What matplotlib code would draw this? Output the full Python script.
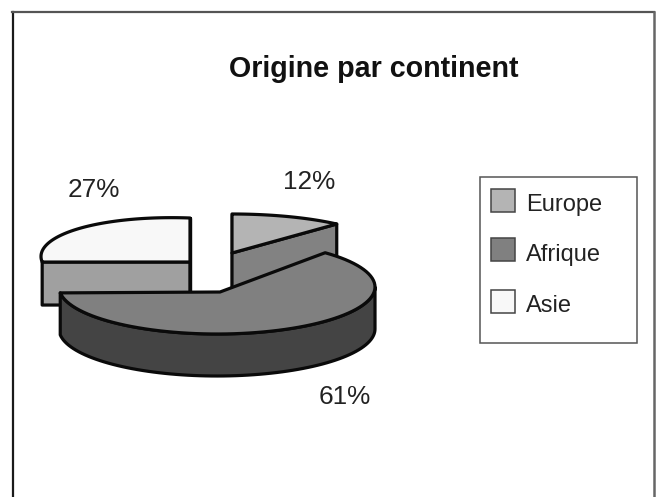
import matplotlib
matplotlib.use('agg')
import matplotlib.pyplot as plt
from matplotlib.patches import Polygon, Rectangle
import numpy as np

plt.rcParams['font.family'] = ['Liberation Sans', 'DejaVu Sans']

continents = ['Europe', 'Afrique', 'Asie']
shares = [12, 61, 27]
pct_labels = ['12%', '61%', '27%']

top_colors = ['#b4b4b4', '#808080', '#f8f8f8']
side_colors = ['#828282', '#444444', '#a0a0a0']

W, H = 658, 497
fig = plt.figure(figsize=(W / 100, H / 100), dpi=100)
ax = fig.add_axes([0, 0, 1, 1])
ax.set_xlim(0, W)
ax.set_ylim(H, 0)
ax.axis('off')

# outer frame, bottom runs off the picture
ax.plot([12.5, 12.5], [497, 12], color='#1a1a1a', lw=1.6)
ax.plot([12, 654], [12, 12], color='#555555', lw=1.6)
ax.plot([654, 654], [12, 497], color='#666666', lw=1.8)

# slice geometry in pixels: ellipse centre, radii, apex, wall depth, tilt of the ellipse
geo = {
    'Europe': dict(c=(232, 251), rx=153, ry=37, apex=(232, 253), depth=36, tilt=0),
    'Afrique': dict(c=(217, 287), rx=158, ry=47, apex=(220, 292), depth=42, tilt=0),
    'Asie': dict(c=(190, 262), rx=149, ry=44, apex=(190, 262), depth=43, tilt=0.037),
}

# angles go clockwise from 12 o'clock
sweeps = np.array(shares) / sum(shares) * 360
ends = 90 - np.cumsum(sweeps)
starts = ends + sweeps


def arc(g, a0, a1):
    t = np.radians(np.linspace(a0, a1, 80))
    dx = g['rx'] * np.cos(t)
    return np.column_stack([g['c'][0] + dx, g['c'][1] - g['ry'] * np.sin(t) + g['tilt'] * dx])


kw = dict(ec='#0a0a0a', lw=2.3, joinstyle='round')

# back slices show their cut faces
for i, z in ((2, 2), (0, 6)):
    g = geo[continents[i]]
    pts = arc(g, starts[i], ends[i])
    apex = np.array(g['apex'], dtype=float)
    d = np.array([0, g['depth']])
    for p in (pts[0], pts[-1]):
        ax.add_patch(Polygon([apex, p, p + d, apex + d], fc=side_colors[i], zorder=z, **kw))
    ax.add_patch(Polygon(np.vstack([apex, pts]), fc=top_colors[i], zorder=z + 1, **kw))

# front slice shows its rounded wall, from the left end round to the right extreme
i = 1
g = geo['Afrique']
pts = arc(g, starts[i], ends[i])
wall = arc(g, ends[i], 0)
d = np.array([0, g['depth']])
ax.add_patch(Polygon(np.vstack([wall, (wall + d)[::-1]]), fc=side_colors[i], zorder=10, **kw))
ax.add_patch(Polygon(np.vstack([g['apex'], pts]), fc=top_colors[i], zorder=11, **kw))

ax.text(229, 77, 'Origine par continent', fontsize=20.6, fontweight='bold', ha='left', va='baseline', color='#111111')

label_pos = [(283, 189), (319, 404), (68, 197)]
for lab, (x, y) in zip(pct_labels, label_pos):
    ax.text(x, y, lab, fontsize=18.8, ha='left', va='baseline', color='#222222')

# legend
ax.add_patch(Rectangle((480, 177), 157, 166, fc='white', ec='#555555', lw=1.1, zorder=3))
swatch_y = [189, 238, 290]
text_y = [211, 261, 312]
for name, col, y, ty in zip(continents, top_colors, swatch_y, text_y):
    ax.add_patch(Rectangle((491, y), 24, 23, fc=col, ec='#444444', lw=1.1, zorder=4))
    ax.text(526, ty, name, fontsize=17, ha='left', va='baseline', color='#222222', zorder=4)

fig.savefig('out.png', dpi=100)
